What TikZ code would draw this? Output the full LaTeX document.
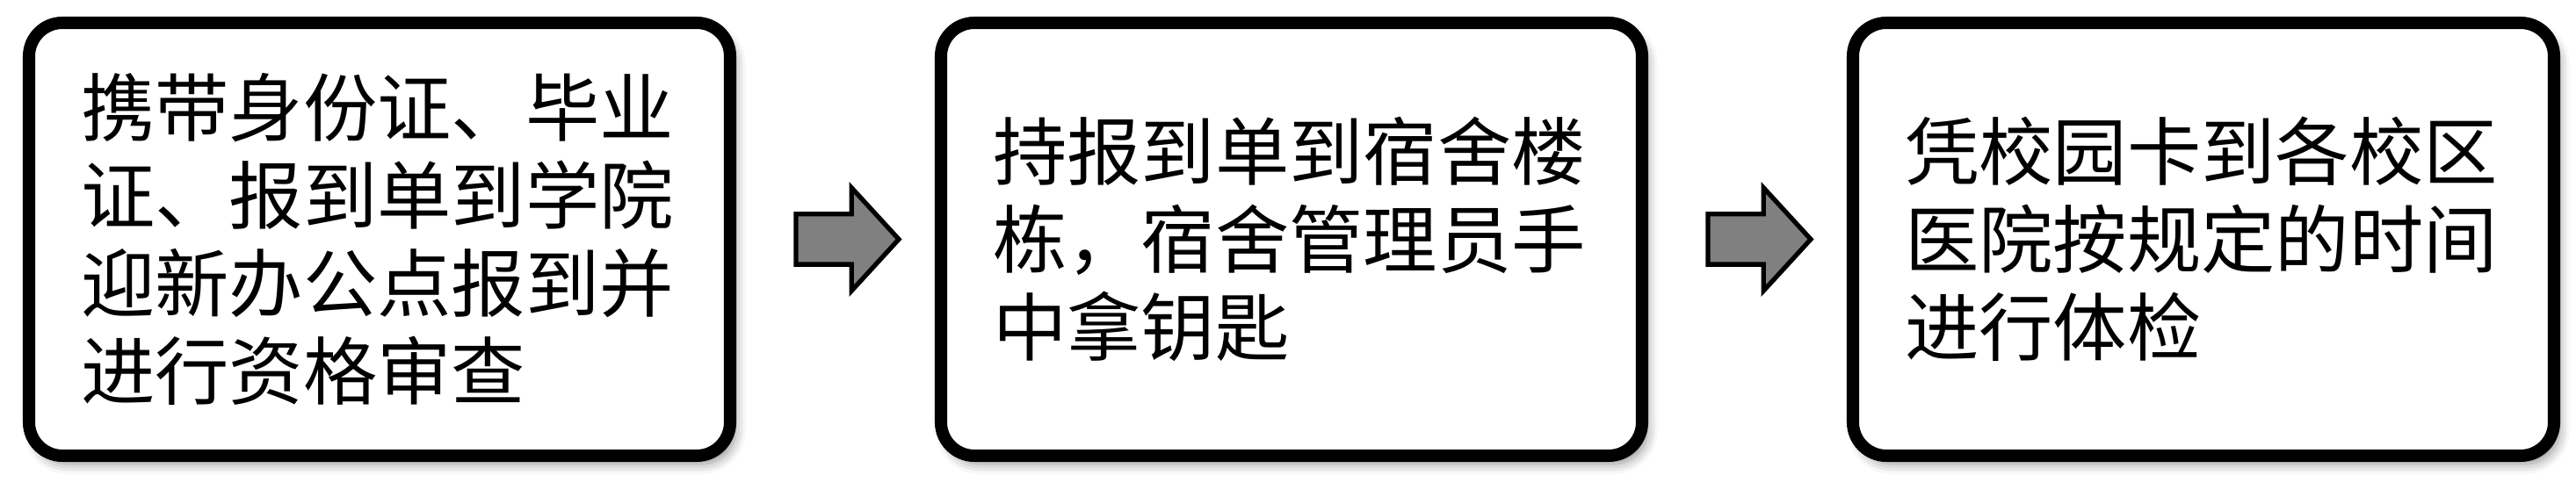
\documentclass[tikz,border=0pt]{standalone}
\usepackage{fontspec}
\newfontfamily\cjk{Noto Sans CJK SC}
\usepackage{tikz}
\usetikzlibrary{%
  shapes, shapes.arrows, positioning, calc, shadows, shadows.blur
}
\usepackage{xcolor}
\tikzstyle{snode} = [%
  rectangle,
  rounded corners=0.38cm,
  draw=black,
  line width=4pt,
  fill=white,
  minimum width=7.98cm,
  minimum height=4.93cm,
  text width=6.8cm,
  align=left,
  outer sep=0pt,
  inner sep=0pt,
  blur shadow={shadow xshift=0.06cm, shadow yshift=-0.09cm,
    shadow blur radius=0.12cm, shadow opacity=45},
  font=\cjk\fontsize{24pt}{28.45pt}\selectfont
]

\begin{document}
\begin{tikzpicture}[%
  stepto/.style={%
    single arrow,
    draw=black,
    line width=1.5pt,
    fill=gray,
    minimum height=1.17cm,
    inner xsep=0pt,
    inner ysep=0.26cm,
    outer sep=0pt,
    single arrow head extend=0.3cm,
    single arrow tip angle=95
  }
]
  \useasboundingbox (0,0) rectangle (29.32,5.66);

  % Nodes
  \node[snode] (S1) at (4.32,2.935) {携带身份证、毕业\\证、报到单到学院\\迎新办公点报到并\\进行资格审查};
  \node[snode,right=2.4cm of S1] (S2) {持报到单到宿舍楼\\栋，宿舍管理员手\\中拿钥匙};
  \node[snode,right=2.4cm of S2] (S3) {凭校园卡到各校区\\医院按规定的时间\\进行体检};

  % Step arrows
  \node[stepto,right=0.75cm of S1] (A1) {};
  \node[stepto,right=0.75cm of S2] (A2) {};

\end{tikzpicture}
\end{document}
